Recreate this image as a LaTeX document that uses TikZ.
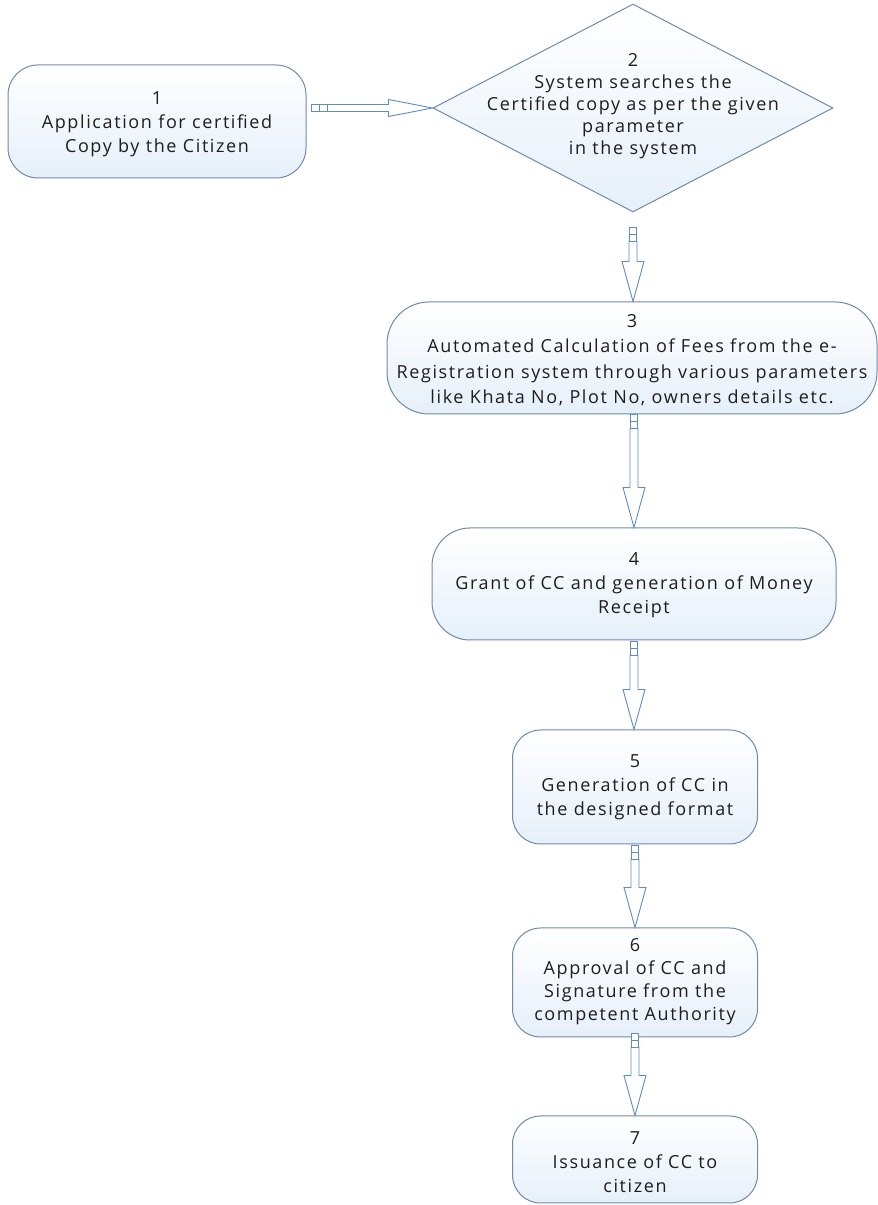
\documentclass[tikz,border=0pt]{standalone}
\usepackage{fontspec}
\setmainfont{Open Sans}[LetterSpace=9]
\usetikzlibrary{shapes.geometric,calc}
\definecolor{boxline}{RGB}{112,138,170}
\definecolor{boxfill}{RGB}{230,239,249}
\definecolor{arrowblue}{RGB}{96,140,196}
\definecolor{txt}{RGB}{30,30,30}
\tikzset{
  stepbox/.style={draw=boxline, line width=1pt, rounded corners=#1, top color=white, bottom color=boxfill, inner sep=0pt},
  stepbox/.default=28pt,
  steptext/.style={align=center, text=txt, font=\fontsize{18}{24}\selectfont, inner sep=0pt},
  arrowln/.style={draw=arrowblue, fill=white, line width=0.9pt, line join=miter},
}
% vertical hollow arrow: #1 start coordinate, #2 target anchor
\newcommand\vhollow[2]{%
  \draw[arrowln] ($(#1)+(-4,-14)$) -- ($(#1 |- #2)+(-4,40)$) -- ($(#1 |- #2)+(-11,40)$) -- (#1 |- #2)
     -- ($(#1 |- #2)+(11,40)$) -- ($(#1 |- #2)+(4,40)$) -- ($(#1)+(4,-14)$) -- cycle;
  \draw[arrowln] ($(#1)+(-3.5,0)$) rectangle ($(#1)+(3.5,-7)$);
  \draw[arrowln] ($(#1)+(-3.5,-7)$) rectangle ($(#1)+(3.5,-14)$);
}
\begin{document}
\begin{tikzpicture}[x=1pt,y=1pt]
\useasboundingbox (0,0) rectangle (878,1205);
\fill[white] (0,0) rectangle (878,1205);

% Step 1
\node[stepbox=30pt, minimum width=298pt, minimum height=113pt] (b1) at (157,1083.5) {};
\node[steptext] (t1) at (157,1081) {1\\Application for certified\\Copy by the Citizen};

% Step 2 (diamond)
\node[diamond, draw=boxline, line width=1pt, top color=white, bottom color=boxfill, inner sep=0pt,
      minimum width=400pt, minimum height=208pt] (d2) at (633,1097) {};
\node[steptext, font=\fontsize{18}{22}\selectfont] (t2) at (633,1099) {2\\System searches the\\Certified copy as per the given\\parameter\\in the system};

% Step 3
\node[stepbox=42pt, minimum width=490pt, minimum height=112pt] (b3) at (632,847) {};
\node[steptext, font=\fontsize{18}{25.5}\selectfont] (t3) at (632,845) {3\\Automated Calculation of Fees from the e-\\Registration system through various parameters\\like Khata No, Plot No, owners details etc.};

% Step 4
\node[stepbox=38pt, minimum width=404pt, minimum height=112pt] (b4) at (634,621) {};
\node[steptext] (t4) at (634,620) {4\\Grant of CC and generation of Money\\Receipt};

% Step 5
\node[stepbox=28pt, minimum width=245pt, minimum height=114pt] (b5) at (635,418) {};
\node[steptext] (t5) at (635,418) {5\\Generation of CC in\\the designed format};

% Step 6
\node[stepbox=28pt, minimum width=245pt, minimum height=109pt] (b6) at (635,222.5) {};
\node[steptext, font=\fontsize{18}{23}\selectfont] (t6) at (635,223) {6\\Approval of CC and\\Signature from the\\competent Authority};

% Step 7
\node[stepbox=28pt, minimum width=245pt, minimum height=87pt] (b7) at (635,45.5) {};
\node[steptext] (t7) at (635,43) {7\\Issuance of CC to\\citizen};

% Arrow 1 -> 2 (horizontal)
\coordinate (h0) at ($(b1.east |- d2.west)+(5,0)$);
\draw[arrowln] ($(h0)+(16,-3.5)$) -- ($(d2.west)+(-44,-3.5)$) -- ($(d2.west)+(-44,-8.5)$) -- (d2.west)
   -- ($(d2.west)+(-44,8.5)$) -- ($(d2.west)+(-44,3.5)$) -- ($(h0)+(16,3.5)$) -- cycle;
\draw[arrowln] ($(h0)+(0,-3.5)$) rectangle ($(h0)+(8,3.5)$);
\draw[arrowln] ($(h0)+(8,-3.5)$) rectangle ($(h0)+(16,3.5)$);

% Vertical arrows
\coordinate (s23) at ($(d2.south)+(0,-15)$);
\vhollow{s23}{b3.north}
\coordinate (s34) at ($(b3.south)+(2,0)$);
\vhollow{s34}{b4.north}
\coordinate (s45) at ($(b4.south)+(0,-1)$);
\vhollow{s45}{b5.north}
\coordinate (s56) at ($(b5.south)+(0,-1)$);
\vhollow{s56}{b6.north}
\coordinate (s67) at ($(b6.south)+(0,4)$);
\vhollow{s67}{b7.north}
\end{tikzpicture}
\end{document}
